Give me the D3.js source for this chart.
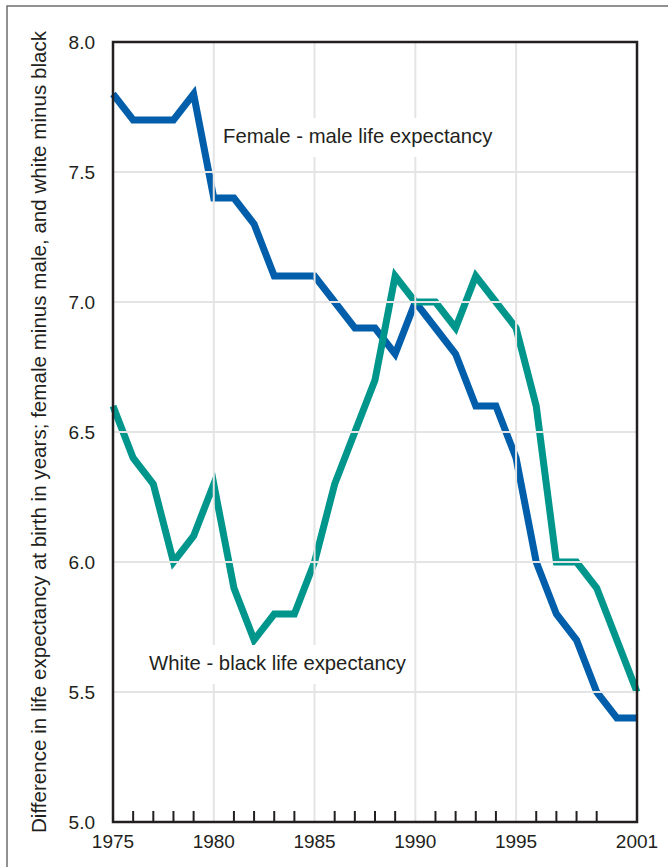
<!DOCTYPE html>
<html>
<head>
<meta charset="utf-8">
<script src="https://cdn.jsdelivr.net/npm/d3@7"></script>
<style>
  body { margin: 0; background: #fff; }
  text { font-family: "Liberation Sans", Arial, Helvetica, sans-serif; fill: #231f20; }
</style>
</head>
<body>
<div id="chart"></div>
<script>
var width = 668;
var height = 867;

// data
var years = d3.range(1975, 2002);
var femaleMinusMale = [7.8, 7.7, 7.7, 7.7, 7.8, 7.4, 7.4, 7.3, 7.1, 7.1, 7.1, 7.0, 6.9, 6.9, 6.8,
  7.0, 6.9, 6.8, 6.6, 6.6, 6.4, 6.0, 5.8, 5.7, 5.5, 5.4, 5.4];
var whiteMinusBlack = [6.6, 6.4, 6.3, 6.0, 6.1, 6.3, 5.9, 5.7, 5.8, 5.8, 6.0, 6.3, 6.5, 6.7, 7.1,
  7.0, 7.0, 6.9, 7.1, 7.0, 6.9, 6.6, 6.0, 6.0, 5.9, 5.7, 5.5];
var yTicks = [5.0, 5.5, 6.0, 6.5, 7.0, 7.5, 8.0];
var xLabels = [1975, 1980, 1985, 1990, 1995, 2001];
var gridYears = [1980, 1985, 1990, 1995];

var plotLeft = 113, plotTop = 42, plotRight = 637, plotBottom = 822;

var svg = d3.select("#chart").append("svg")
  .attr("width", width)
  .attr("height", height)

// outer frame
svg.append("rect")
  .attr("x", 7)
  .attr("y", 6)
  .attr("width", width + 10)
  .attr("height", height + 10)
  .attr("fill", "none")
  .attr("stroke", "#6d6e70")
  .attr("stroke-width", 1.5)

var x = d3.scaleLinear().domain([1975, 2001]).range([plotLeft, plotRight])
var y = d3.scaleLinear().domain([5, 8]).range([plotBottom, plotTop])

var line = d3.line()
  .x(function(d) { return x(d.year) })
  .y(function(d) { return y(d.value) })

var series = [
  { name: "fm", color: "#005eaa", values: femaleMinusMale },
  { name: "wb", color: "#00968c", values: whiteMinusBlack }
]

var lines = svg.append("g")
lines.selectAll("path")
  .data(series)
  .enter()
  .append("path")
  .attr("d", function(s) {
    return line(years.map(function(yr, i) { return { year: yr, value: s.values[i] } }))
  })
  .attr("fill", "none")
  .attr("stroke", function(s) { return s.color })
  .attr("stroke-width", 7)
  .attr("stroke-linejoin", "miter")

// grid drawn over the lines, like the original
var grid = svg.append("g")
grid.selectAll("line.h")
  .data(yTicks.filter(function(v) { return v > 5 && v < 8 }))
  .enter().append("line")
  .attr("x1", plotLeft).attr("x2", plotRight)
  .attr("y1", function(d) { return y(d) })
  .attr("y2", function(d) { return y(d) })
  .attr("stroke", "#e4e4e4")
  .attr("stroke-width", 2)
grid.selectAll("line.v")
  .data(gridYears)
  .enter().append("line")
  .attr("y1", plotTop).attr("y2", plotBottom)
  .attr("x1", function(d) { return x(d) })
  .attr("x2", function(d) { return x(d) })
  .attr("stroke", "#e4e4e4")
  .attr("stroke-width", 2)

// series labels with white backing
var labels = [
  { text: "Female - male life expectancy", x: 223, y: 143 },
  { text: "White - black life expectancy", x: 149, y: 670 }
]
labels.forEach(function(l) {
  var g = svg.append("g")
  var bg = g.append("rect").attr("fill", "#fff")
  var t = g.append("text")
    .attr("x", l.x)
    .attr("y", l.y)
    .attr("font-size", "20.3px")
    .text(l.text)
  var b = t.node().getBBox()
  bg.attr("x", b.x - 3).attr("y", l.y - 25).attr("width", b.width + 6).attr("height", 39)
})

// minor year ticks
svg.append("g").selectAll("line")
  .data(years.filter(function(yr) { return yr % 5 != 0 && yr != 2001 }))
  .enter().append("line")
  .attr("x1", function(d) { return x(d) })
  .attr("x2", function(d) { return x(d) })
  .attr("y1", plotBottom)
  .attr("y2", plotBottom - 11)
  .attr("stroke", "#231f20")
  .attr("stroke-width", 2)

// plot box
svg.append("rect")
  .attr("x", plotLeft)
  .attr("y", plotTop)
  .attr("width", plotRight - plotLeft)
  .attr("height", plotBottom - plotTop)
  .attr("fill", "none")
  .attr("stroke", "#231f20")
  .attr("stroke-width", 2.5)

svg.append("g").selectAll("text")
  .data(yTicks)
  .enter().append("text")
  .attr("x", 95)
  .attr("y", function(d) { return y(d) + 7 })
  .attr("text-anchor", "end")
  .attr("font-size", "19px")
  .text(function(d) { return d3.format(".1f")(d) })

svg.append("g").selectAll("text")
  .data(xLabels)
  .enter().append("text")
  .attr("x", function(d) { return x(d) })
  .attr("y", 848)
  .attr("text-anchor", "middle")
  .attr("font-size", "19px")
  .text(function(d) { return d })

svg.append("text")
  .attr("transform", "translate(46, 432) rotate(-90)")
  .attr("text-anchor", "middle")
  .attr("font-size", "20.6px")
  .text("Difference in life expectancy at birth in years; female minus male, and white minus black")
</script>
</body>
</html>
